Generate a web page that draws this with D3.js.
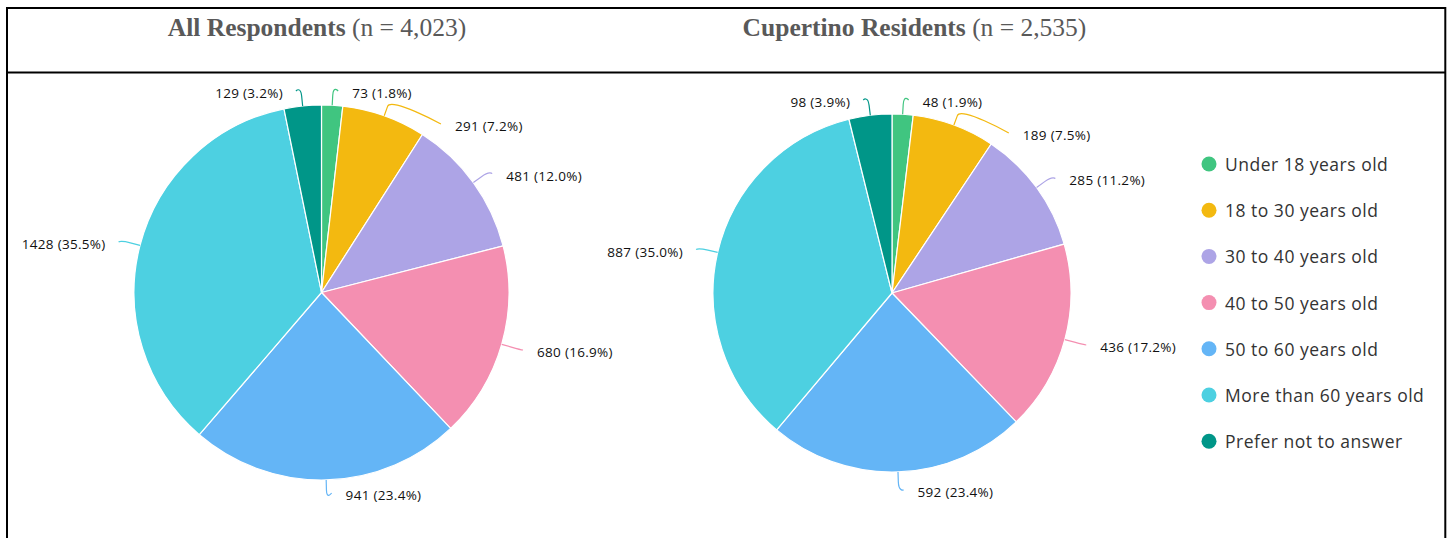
<!DOCTYPE html>
<html><head><meta charset="utf-8">
<script src="https://cdn.jsdelivr.net/npm/d3@7"></script>
<style>body{margin:0;background:#fff;} svg{display:block}</style>
</head><body><svg id="c" width="1449" height="538"></svg>
<script>
const categories = ["Under 18 years old","18 to 30 years old","30 to 40 years old","40 to 50 years old","50 to 60 years old","More than 60 years old","Prefer not to answer"];
const allRespondents = [73, 291, 481, 680, 941, 1428, 129];
const cupertinoResidents = [48, 189, 285, 436, 592, 887, 98];
const panelTitles = ["All Respondents", "Cupertino Residents"];
const sliceColors = ["#40c580", "#f3b910", "#ada4e6", "#f48fb1", "#64b5f6", "#4dd0e1", "#009688"];

const svg = d3.select("#c");
const color = d3.scaleOrdinal().domain(categories).range(sliceColors);

// frame
const frame = svg.append("g").attr("stroke", "#000").attr("stroke-width", 2);
frame.append("line").attr("x1", 6).attr("x2", 1446).attr("y1", 8).attr("y2", 8);
frame.append("line").attr("x1", 6).attr("x2", 1446).attr("y1", 72.5).attr("y2", 72.5);
frame.append("line").attr("x1", 7).attr("x2", 7).attr("y1", 7).attr("y2", 538);
frame.append("line").attr("x1", 1445.3).attr("x2", 1445.3).attr("y1", 7).attr("y2", 538);

function drawTitle(title, total, x) {
  const t = svg.append("text").attr("x", x).attr("y", 36).attr("text-anchor", "middle")
    .attr("font-family", "'Liberation Serif', serif").attr("font-size", 25.5).attr("fill", "#595959");
  t.append("tspan").attr("font-weight", "bold").text(title);
  t.append("tspan").text(" (n = " + d3.format(",")(total) + ")");
}

function drawPie(values, cx, cy, r, minY, maxY) {
  const total = d3.sum(values);
  const data = categories.map((c, i) => ({cat: c, value: values[i]}));
  const arcs = d3.pie().sort(null).value(d => d.value)(data);
  const arc = d3.arc().innerRadius(0).outerRadius(r);
  const g = svg.append("g").attr("transform", `translate(${cx},${cy})`);
  g.selectAll("path").data(arcs).join("path")
    .attr("d", arc).attr("fill", d => color(d.data.cat))
    .attr("stroke", "#fff").attr("stroke-width", 1.2);

  const R = r + 17;
  const items = arcs.map(a => {
    const ang = (a.startAngle + a.endAngle) / 2;
    return {a, ang, right: ang < Math.PI,
      x: cx + R * Math.sin(ang),
      y: Math.max(minY, Math.min(maxY, cy - R * Math.cos(ang) + 3))};
  });
  [true, false].forEach(side => {
    const s = items.filter(d => d.right === side).sort((p, q) => p.y - q.y);
    for (let i = 1; i < s.length; i++) {
      if (s[i].y < s[i - 1].y + 33) {
        s[i].y = s[i - 1].y + 33;
        const dy = s[i].y - 3 - cy;
        s[i].x = cx + (side ? 1 : -1) * Math.sqrt(Math.max(0, R * R - dy * dy));
      }
    }
  });
  items.forEach(d => {
    const sin = Math.sin(d.ang), cos = Math.cos(d.ang);
    const tx = cx + r * sin, ty = cy - r * cos;
    const bx = cx + (r + 10) * sin, by = cy - (r + 10) * cos;
    const lx = d.x + (d.right ? 5 : -5), ly = d.y - 2;
    const p = d3.path();
    p.moveTo(lx, ly);
    p.bezierCurveTo(lx, ly, 2 * bx - tx, 2 * by - ty, bx, by);
    p.lineTo(tx, ty);
    svg.append("path").attr("d", p.toString()).attr("fill", "none")
      .attr("stroke", color(d.a.data.cat)).attr("stroke-width", 1.2);
    svg.append("text").attr("x", d.x + (d.right ? 19 : -18)).attr("y", d.y)
      .attr("text-anchor", d.right ? "start" : "end").attr("dominant-baseline", "central")
      .attr("font-family", "'Open Sans', sans-serif").attr("font-size", 13.5)
      .attr("letter-spacing", "0.3px").attr("fill", "#111")
      .text(`${d.a.data.value} (${(d.a.data.value / total * 100).toFixed(1)}%)`);
  });
  return total;
}

const t1 = drawPie(allRespondents, 321.5, 292.5, 187.5, 93, 495);
const t2 = drawPie(cupertinoResidents, 892, 293, 179, 102, 495);
drawTitle(panelTitles[0], t1, 317);
drawTitle(panelTitles[1], t2, 914.5);

// legend
const lg = svg.append("g");
const rows = lg.selectAll("g").data(categories).join("g")
  .attr("transform", (d, i) => `translate(1209,${164 + i * 46.2})`);
rows.append("circle").attr("r", 7.5).attr("fill", d => color(d));
rows.append("text").attr("x", 16).attr("y", 0).attr("dominant-baseline", "central")
  .attr("font-family", "'Open Sans', sans-serif").attr("font-size", 17.5)
  .attr("letter-spacing", "0.5px").attr("fill", "#333").text(d => d);
</script></body></html>
